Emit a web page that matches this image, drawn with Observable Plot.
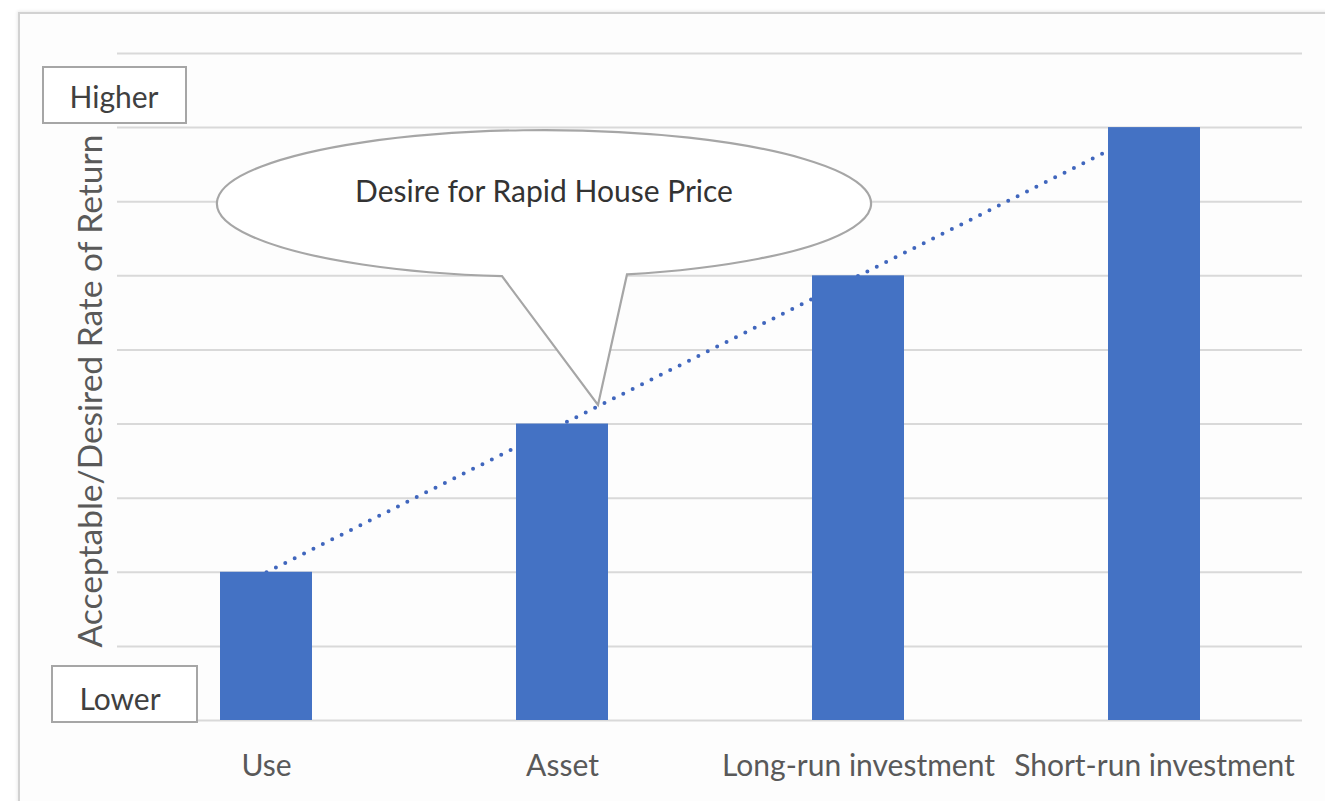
<!DOCTYPE html>
<html>
<head>
<meta charset="utf-8">
<script src="https://cdn.jsdelivr.net/npm/d3@7"></script>
<script src="https://cdn.jsdelivr.net/npm/@observablehq/plot@0.6"></script>
<style>
  html, body { margin: 0; padding: 0; background: #ffffff; }
  #wrap { position: relative; width: 1325px; height: 801px; overflow: hidden; }
  #frame { position: absolute; left: 18px; top: 12px; width: 1400px; height: 900px;
           border-left: 2px solid #d2d2d2; border-top: 2px solid #d2d2d2;
           box-shadow: -1px -1px 3px rgba(0,0,0,0.08); background: #fdfdfd; }
  #chart { position: absolute; left: 0; top: 0; }
</style>
</head>
<body>
<div id="wrap"><div id="frame"></div><div id="chart"></div></div>
<script>
const categories = ["Use", "Asset", "Long-run investment", "Short-run investment"];
const values = [2, 4, 6, 8];
const gridValues = [1, 2, 3, 4, 5, 6, 7, 8, 9];
const baseValue = [0];
const yTitle = "Acceptable/Desired Rate of Return";
const highLabel = "Higher";
const lowLabel = "Lower";
const calloutText = "Desire for Rapid House Price";

const data = categories.map((c, i) => ({category: c, value: values[i]}));

const FONT = "Lato, 'Open Sans', sans-serif";
const BLUE = "#4472C4";

const plot = Plot.plot({
  width: 1325,
  height: 801,
  marginLeft: 117,
  marginRight: 23,
  marginTop: 53,
  marginBottom: 81,
  style: {fontFamily: FONT, fontSize: "30px", background: "transparent", color: "#595959", overflow: "visible"},
  x: {domain: categories, paddingInner: 0.69, paddingOuter: 0.345, label: null},
  y: {domain: [0, 9], axis: null},
  marks: [
    Plot.ruleY(gridValues, {stroke: "#d9d9d9", strokeWidth: 2}),
    Plot.ruleY(baseValue, {stroke: "#d9d9d9", strokeWidth: 2}),
    Plot.line(data, {x: "category", y: "value", stroke: "#4066bd", strokeWidth: 4,
      strokeDasharray: "0,10.5", strokeLinecap: "round"}),
    Plot.barY(data, {x: "category", y: "value", fill: BLUE}),
    Plot.axisX({tickSize: 0, tickPadding: 34, fill: "#595959", label: null})
  ]
});

document.getElementById("chart").appendChild(plot);

const xs = plot.scale("x");
const ys = plot.scale("y");
const bw = xs.bandwidth;
const step = xs.step;
const svg = d3.select(plot);
const unit = ys.apply(0) - ys.apply(1);

// Y title
svg.append("text")
  .attr("transform", `translate(102,391) rotate(-90)`)
  .attr("text-anchor", "middle").attr("font-size", 33.5).attr("fill", "#595959").attr("font-family", FONT)
  .text(yTitle);

// Callout annotation
const assetC = xs.apply("Asset") + bw / 2;
const cx = assetC - 18;
const cy = ys.apply(6.97);
const rx = step * 1.105;
const ry = unit * 0.99;
const baseL = cx - 42, baseR = cx + 83;
const yOn = x => cy + ry * Math.sqrt(1 - Math.pow((x - cx) / rx, 2));
const tipX = assetC + 36;
const tipY = ys.apply(4.25);
const g = svg.append("g");
g.append("path")
  .attr("d", `M${baseL},${yOn(baseL)} A${rx},${ry} 0 1 1 ${baseR},${yOn(baseR)} L${tipX},${tipY} Z`)
  .attr("fill", "#ffffff").attr("stroke", "#a6a6a6").attr("stroke-width", 2.2)
  .attr("stroke-linejoin", "miter");
g.append("text")
  .attr("x", cx).attr("y", cy - 1)
  .attr("text-anchor", "middle").attr("font-size", 30).attr("fill", "#333333")
  .attr("font-family", FONT)
  .text(calloutText);

// Higher / Lower boxes
const hb = svg.append("g");
hb.append("rect").attr("x", 43).attr("y", ys.apply(9) + 14).attr("width", 143).attr("height", 56)
  .attr("fill", "#ffffff").attr("stroke", "#a6a6a6").attr("stroke-width", 2);
hb.append("text").attr("x", 114).attr("y", ys.apply(9) + 55)
  .attr("text-anchor", "middle").attr("font-size", 30).attr("fill", "#404040").attr("font-family", FONT)
  .text(highLabel);
const lb = svg.append("g");
lb.append("rect").attr("x", 52).attr("y", ys.apply(0) - 54).attr("width", 145).attr("height", 56)
  .attr("fill", "#ffffff").attr("stroke", "#a6a6a6").attr("stroke-width", 2);
lb.append("text").attr("x", 120).attr("y", ys.apply(0) - 10)
  .attr("text-anchor", "middle").attr("font-size", 30).attr("fill", "#404040").attr("font-family", FONT)
  .text(lowLabel);
</script>
</body>
</html>
